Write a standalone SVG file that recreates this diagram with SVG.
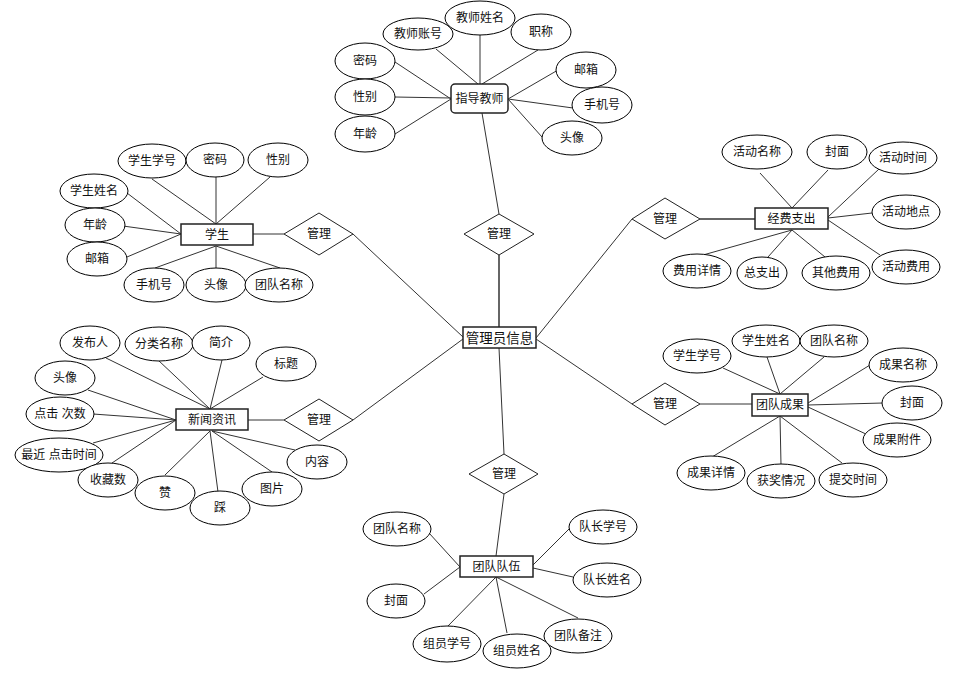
<svg xmlns="http://www.w3.org/2000/svg" width="962" height="674" viewBox="0 0 962 674">
<style>
.bg{fill:#fff}
.c line{stroke:#333;stroke-width:1}
.c line.t{stroke:#666;stroke-width:2}
ellipse{fill:#fff;stroke:#000;stroke-width:1}
.e rect{fill:#fff;stroke:#222;stroke-width:1.5}
.d polygon{fill:#fff;stroke:#222;stroke-width:1}
text{font-family:"Liberation Sans","Noto Sans CJK SC",sans-serif;font-size:12px;fill:#111;text-anchor:middle;dominant-baseline:central}
text.big{font-size:13.5px}
</style>
<rect class="bg" width="962" height="674"/>
<g id="connectors" class="c">
<!-- teacher -->
<line x1="480" y1="34" x2="480" y2="84"/>
<line x1="436" y1="49" x2="478" y2="84"/>
<line x1="538" y1="50" x2="482" y2="84"/>
<line x1="395" y1="62" x2="451" y2="99"/>
<line x1="395" y1="97" x2="451" y2="98"/>
<line x1="395" y1="134" x2="451" y2="99"/>
<line x1="558" y1="70" x2="508" y2="99"/>
<line x1="573" y1="108" x2="508" y2="99"/>
<line x1="542" y1="137" x2="508" y2="99"/>
<line x1="482" y1="113" x2="499" y2="214"/>
<line class="t" x1="499" y1="255" x2="499" y2="327"/>
<!-- admin -->
<line x1="353" y1="234" x2="463" y2="337"/>
<line x1="353" y1="420" x2="463" y2="339"/>
<line x1="499" y1="348" x2="504" y2="454"/>
<line x1="536" y1="338" x2="632" y2="219"/>
<line x1="536" y1="339" x2="632" y2="404"/>
<!-- student -->
<line x1="253" y1="234" x2="284" y2="234"/>
<line x1="152" y1="179" x2="216" y2="224"/>
<line x1="216" y1="177" x2="216" y2="224"/>
<line x1="270" y1="177" x2="216" y2="224"/>
<line x1="127" y1="193" x2="181" y2="234"/>
<line x1="123" y1="226" x2="181" y2="234"/>
<line x1="127" y1="257" x2="181" y2="234"/>
<line x1="155" y1="268" x2="216" y2="246"/>
<line x1="216" y1="268" x2="216" y2="246"/>
<line x1="280" y1="268" x2="216" y2="246"/>
<!-- news -->
<line x1="248" y1="420" x2="284" y2="420"/>
<line x1="106" y1="358" x2="210" y2="409"/>
<line x1="158" y1="360" x2="210" y2="409"/>
<line x1="222" y1="360" x2="210" y2="409"/>
<line x1="263" y1="377" x2="210" y2="409"/>
<line x1="88" y1="390" x2="176" y2="420"/>
<line x1="93" y1="414" x2="176" y2="420"/>
<line x1="93" y1="443" x2="176" y2="420"/>
<line x1="112" y1="463" x2="176" y2="420"/>
<line x1="165" y1="475" x2="210" y2="431"/>
<line x1="218" y1="492" x2="210" y2="431"/>
<line x1="272" y1="472" x2="212" y2="431"/>
<line x1="295" y1="450" x2="212" y2="431"/>
<!-- fee -->
<line class="t" x1="700" y1="219" x2="755" y2="219"/>
<line x1="760" y1="173" x2="792" y2="208"/>
<line x1="828" y1="170" x2="792" y2="208"/>
<line x1="879" y1="169" x2="828" y2="217"/>
<line x1="872" y1="213" x2="828" y2="218"/>
<line x1="880" y1="255" x2="828" y2="220"/>
<line x1="703" y1="255" x2="792" y2="230"/>
<line x1="768" y1="257" x2="792" y2="230"/>
<line x1="825" y1="257" x2="792" y2="230"/>
<!-- achievement -->
<line x1="700" y1="404" x2="752" y2="404"/>
<line x1="723" y1="368" x2="780" y2="394"/>
<line x1="767" y1="357" x2="780" y2="394"/>
<line x1="824" y1="357" x2="780" y2="394"/>
<line x1="870" y1="365" x2="808" y2="403"/>
<line x1="883" y1="403" x2="808" y2="405"/>
<line x1="868" y1="435" x2="808" y2="407"/>
<line x1="712" y1="457" x2="780" y2="416"/>
<line x1="781" y1="465" x2="780" y2="416"/>
<line x1="842" y1="463" x2="780" y2="416"/>
<!-- team -->
<line x1="504" y1="494" x2="496" y2="556"/>
<line x1="429" y1="533" x2="460" y2="567"/>
<line x1="424" y1="594" x2="460" y2="567"/>
<line x1="447" y1="627" x2="496" y2="577"/>
<line x1="507" y1="633" x2="496" y2="577"/>
<line x1="578" y1="618" x2="496" y2="577"/>
<line x1="570" y1="528" x2="533" y2="565"/>
<line x1="573" y1="577" x2="533" y2="568"/>
</g>

<!-- entities -->
<g id="admin" class="e"><rect x="463" y="327" width="73" height="21"/><text x="499.5" y="338" class="big">管理员信息</text></g>
<g id="teacher" class="e"><rect x="451" y="84" width="57" height="29" rx="4"/><text x="479.5" y="98.5">指导教师</text></g>
<g id="student" class="e"><rect x="181" y="224" width="72" height="21"/><text x="217" y="235">学生</text></g>
<g id="news" class="e"><rect x="176" y="409" width="72" height="21"/><text x="212" y="420">新闻资讯</text></g>
<g id="fee" class="e"><rect x="755" y="208" width="73" height="21"/><text x="791.5" y="219">经费支出</text></g>
<g id="achievement" class="e"><rect x="752" y="394" width="56" height="22"/><text x="780" y="405">团队成果</text></g>
<g id="team" class="e"><rect x="460" y="556" width="73" height="21"/><text x="496.5" y="567">团队队伍</text></g>

<!-- relationships -->
<g id="rel-teacher" class="d"><polygon points="499,214 534,234 499,255 464,234"/><text x="499" y="234">管理</text></g>
<g id="rel-student" class="d"><polygon points="319,213 353,234 319,255 284,234"/><text x="319" y="234">管理</text></g>
<g id="rel-news" class="d"><polygon points="319,399 353,420 319,441 284,420"/><text x="319" y="420">管理</text></g>
<g id="rel-team" class="d"><polygon points="504,454 538,474 504,494 469,474"/><text x="504" y="474">管理</text></g>
<g id="rel-fee" class="d"><polygon points="665,198 700,219 665,239 632,219"/><text x="665" y="219">管理</text></g>
<g id="rel-achievement" class="d"><polygon points="665,383 700,404 665,425 632,404"/><text x="665" y="404">管理</text></g>

<!-- teacher attributes -->
<g id="t-name"><ellipse cx="480" cy="18" rx="35" ry="17"/><text x="480" y="18">教师姓名</text></g>
<g id="t-account"><ellipse cx="418" cy="34" rx="35" ry="16"/><text x="418" y="34">教师账号</text></g>
<g id="t-title"><ellipse cx="541" cy="32" rx="30" ry="18"/><text x="541" y="32">职称</text></g>
<g id="t-pwd"><ellipse cx="365" cy="61" rx="30" ry="18"/><text x="365" y="61">密码</text></g>
<g id="t-sex"><ellipse cx="365" cy="97" rx="30" ry="18"/><text x="365" y="97">性别</text></g>
<g id="t-age"><ellipse cx="365" cy="134" rx="30" ry="18"/><text x="365" y="134">年龄</text></g>
<g id="t-mail"><ellipse cx="586" cy="70" rx="30" ry="18"/><text x="586" y="70">邮箱</text></g>
<g id="t-phone"><ellipse cx="602" cy="105" rx="30" ry="18"/><text x="602" y="105">手机号</text></g>
<g id="t-avatar"><ellipse cx="572" cy="138" rx="30" ry="17"/><text x="572" y="138">头像</text></g>

<!-- student attributes -->
<g id="s-no"><ellipse cx="152" cy="161" rx="34" ry="17"/><text x="152" y="161">学生学号</text></g>
<g id="s-pwd"><ellipse cx="215" cy="160" rx="29" ry="17"/><text x="215" y="160">密码</text></g>
<g id="s-sex"><ellipse cx="278" cy="160" rx="30" ry="17"/><text x="278" y="160">性别</text></g>
<g id="s-name"><ellipse cx="94" cy="191" rx="34" ry="17"/><text x="94" y="191">学生姓名</text></g>
<g id="s-age"><ellipse cx="95" cy="225" rx="30" ry="17"/><text x="95" y="225">年龄</text></g>
<g id="s-mail"><ellipse cx="97" cy="259" rx="30" ry="17"/><text x="97" y="259">邮箱</text></g>
<g id="s-phone"><ellipse cx="154" cy="285" rx="30" ry="17"/><text x="154" y="285">手机号</text></g>
<g id="s-avatar"><ellipse cx="216" cy="285" rx="30" ry="17"/><text x="216" y="285">头像</text></g>
<g id="s-team"><ellipse cx="279" cy="285" rx="34" ry="17"/><text x="279" y="285">团队名称</text></g>

<!-- news attributes -->
<g id="n-pub"><ellipse cx="90" cy="343" rx="30" ry="17"/><text x="90" y="343">发布人</text></g>
<g id="n-cat"><ellipse cx="159" cy="344" rx="34" ry="17"/><text x="159" y="344">分类名称</text></g>
<g id="n-intro"><ellipse cx="221" cy="343" rx="29" ry="17"/><text x="221" y="343">简介</text></g>
<g id="n-title"><ellipse cx="286" cy="364" rx="30" ry="17"/><text x="286" y="364">标题</text></g>
<g id="n-avatar"><ellipse cx="65" cy="378" rx="30" ry="17"/><text x="65" y="378">头像</text></g>
<g id="n-clicks"><ellipse cx="60" cy="414" rx="34" ry="17"/><text x="60" y="414">点击 次数</text></g>
<g id="n-last"><ellipse cx="59" cy="455" rx="44" ry="17"/><text x="59" y="455">最近 点击时间</text></g>
<g id="n-fav"><ellipse cx="108" cy="480" rx="30" ry="17"/><text x="108" y="480">收藏数</text></g>
<g id="n-like"><ellipse cx="165" cy="493" rx="30" ry="17"/><text x="165" y="493">赞</text></g>
<g id="n-dislike"><ellipse cx="220" cy="508" rx="30" ry="17"/><text x="220" y="508">踩</text></g>
<g id="n-img"><ellipse cx="272" cy="489" rx="30" ry="17"/><text x="272" y="489">图片</text></g>
<g id="n-content"><ellipse cx="317" cy="462" rx="30" ry="17"/><text x="317" y="462">内容</text></g>

<!-- fee attributes -->
<g id="f-name"><ellipse cx="757" cy="152" rx="35" ry="17"/><text x="757" y="152">活动名称</text></g>
<g id="f-cover"><ellipse cx="837" cy="152" rx="30" ry="17"/><text x="837" y="152">封面</text></g>
<g id="f-time"><ellipse cx="903" cy="158" rx="34" ry="16"/><text x="903" y="158">活动时间</text></g>
<g id="f-place"><ellipse cx="906" cy="212" rx="34" ry="17"/><text x="906" y="212">活动地点</text></g>
<g id="f-cost"><ellipse cx="906" cy="267" rx="34" ry="17"/><text x="906" y="267">活动费用</text></g>
<g id="f-detail"><ellipse cx="697" cy="271" rx="34" ry="17"/><text x="697" y="271">费用详情</text></g>
<g id="f-total"><ellipse cx="762" cy="273" rx="25" ry="16"/><text x="762" y="273">总支出</text></g>
<g id="f-other"><ellipse cx="836" cy="273" rx="34" ry="17"/><text x="836" y="273">其他费用</text></g>

<!-- achievement attributes -->
<g id="a-sno"><ellipse cx="697" cy="356" rx="34" ry="17"/><text x="697" y="356">学生学号</text></g>
<g id="a-sname"><ellipse cx="766" cy="341" rx="34" ry="16"/><text x="766" y="341">学生姓名</text></g>
<g id="a-team"><ellipse cx="834" cy="341" rx="34" ry="16"/><text x="834" y="341">团队名称</text></g>
<g id="a-name"><ellipse cx="903" cy="365" rx="34" ry="17"/><text x="903" y="365">成果名称</text></g>
<g id="a-cover"><ellipse cx="912" cy="403" rx="30" ry="17"/><text x="912" y="403">封面</text></g>
<g id="a-file"><ellipse cx="897" cy="440" rx="34" ry="17"/><text x="897" y="440">成果附件</text></g>
<g id="a-detail"><ellipse cx="711" cy="473" rx="34" ry="17"/><text x="711" y="473">成果详情</text></g>
<g id="a-award"><ellipse cx="781" cy="481" rx="34" ry="17"/><text x="781" y="481">获奖情况</text></g>
<g id="a-time"><ellipse cx="853" cy="480" rx="34" ry="17"/><text x="853" y="480">提交时间</text></g>

<!-- team attributes -->
<g id="tm-name"><ellipse cx="397" cy="529" rx="34" ry="17"/><text x="397" y="529">团队名称</text></g>
<g id="tm-cover"><ellipse cx="396" cy="601" rx="29" ry="17"/><text x="396" y="601">封面</text></g>
<g id="tm-mno"><ellipse cx="447" cy="644" rx="34" ry="18"/><text x="447" y="644">组员学号</text></g>
<g id="tm-mname"><ellipse cx="517" cy="651" rx="34" ry="17"/><text x="517" y="651">组员姓名</text></g>
<g id="tm-note"><ellipse cx="578" cy="636" rx="34" ry="17"/><text x="578" y="636">团队备注</text></g>
<g id="tm-lno"><ellipse cx="603" cy="527" rx="34" ry="17"/><text x="603" y="527">队长学号</text></g>
<g id="tm-lname"><ellipse cx="607" cy="580" rx="34" ry="17"/><text x="607" y="580">队长姓名</text></g>
</svg>
